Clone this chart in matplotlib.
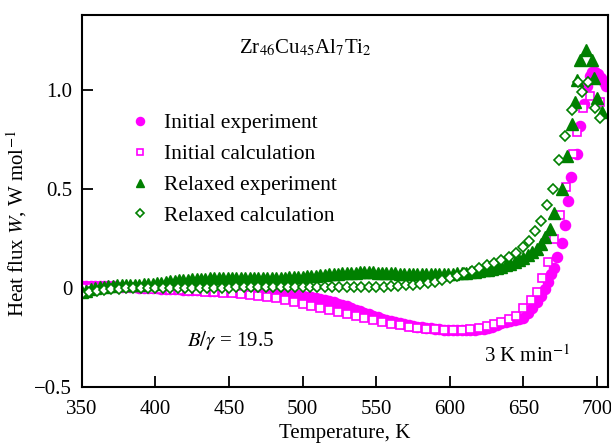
import matplotlib
matplotlib.use("Agg")
import matplotlib.pyplot as plt

plt.rcParams["font.family"] = ["Liberation Serif", "DejaVu Serif"]
plt.rcParams["mathtext.fontset"] = "stix"

# initial state, experiment (filled circles)
t_init_exp = [350, 353, 356, 359, 362, 365, 368, 371, 374, 377, 380,
              383, 386, 389, 392, 395, 398, 401, 404, 407, 410, 413, 416, 419, 422,
              425, 428, 431, 434, 437, 440,
              443, 446, 449, 452, 455, 458, 461, 464, 467, 470, 473, 476, 479, 482,
              485, 488, 491, 494, 497,
              500, 503, 506, 509, 512, 515, 518, 521, 524, 527, 530, 533, 536, 539,
              542, 545, 548,
              551, 554, 557, 560, 563, 566, 569, 572, 575, 578, 581, 584, 587, 590,
              593, 596, 599,
              602, 605, 608, 611, 614, 617, 620, 623, 626, 629, 632,
              635, 638, 641, 644, 647, 650, 653, 656, 659, 662, 665,
              667, 669, 671, 673, 676, 678, 680.5, 682.5, 686.5, 688.5, 691, 693,
              695, 697, 699, 701, 703, 705, 706.5]
w_init_exp = [0.012, 0.013, 0.012, 0.012, 0.011, 0.010, 0.010, 0.009, 0.008, 0.007, 0.006,
              0.005, 0.004, 0.003, 0.002, 0.001, 0.0, -0.001, -0.002, -0.003, -0.004,
              -0.005, -0.006, -0.007, -0.008, -0.009, -0.010, -0.010, -0.011, -0.012, -0.012,
              -0.013, -0.014, -0.015, -0.016, -0.017, -0.018, -0.019, -0.020, -0.021,
              -0.022, -0.023, -0.024, -0.025, -0.026, -0.028, -0.030, -0.032, -0.034, -0.036,
              -0.038, -0.042, -0.046, -0.050, -0.055, -0.060, -0.066, -0.072, -0.078,
              -0.085, -0.092, -0.100, -0.108, -0.116, -0.124, -0.132, -0.140,
              -0.147, -0.154, -0.160, -0.166, -0.172, -0.177, -0.182, -0.186, -0.190,
              -0.194, -0.197, -0.200, -0.203, -0.205, -0.207, -0.209, -0.210,
              -0.211, -0.212, -0.212, -0.212, -0.211, -0.210, -0.208, -0.205, -0.200,
              -0.194, -0.186,
              -0.178, -0.172, -0.166, -0.160, -0.155, -0.150, -0.125, -0.100, -0.070,
              -0.040, -0.005,
              0.03, 0.07, 0.10, 0.16, 0.23, 0.32, 0.44, 0.56, 0.68, 0.82, 0.93, 1.02,
              1.07, 1.09, 1.09, 1.08, 1.06, 1.04, 1.02]

# initial state, calculation (open squares)
t_init_calc = [350, 356, 362, 368, 374, 380, 386, 392, 398, 404, 410, 416, 422, 428,
               434, 440, 446, 452, 458, 464, 470, 476, 482, 488, 494, 500, 506, 512,
               518, 524, 530, 536, 542, 548, 554, 560, 566, 572, 578, 584, 590, 596,
               602, 608, 614, 620,
               625, 630, 635, 640, 645, 650, 655,
               659, 663, 667, 671, 675, 679, 684,
               686.6, 690.6, 695, 702]
w_init_calc = [0.0, 0.0, 0.0, 0.0, 0.0, 0.0, 0.0, -0.002, -0.003, -0.005, -0.007,
               -0.009, -0.012, -0.015, -0.018, -0.020, -0.022, -0.025, -0.028, -0.033,
               -0.038, -0.045, -0.052, -0.060, -0.070, -0.080, -0.090, -0.100, -0.110,
               -0.120, -0.130, -0.140, -0.150, -0.160, -0.170, -0.180, -0.188, -0.195,
               -0.200, -0.204, -0.207, -0.209, -0.210, -0.210, -0.207, -0.200,
               -0.190, -0.180, -0.170, -0.155, -0.140, -0.100, -0.060,
               -0.020, 0.050, 0.130, 0.250, 0.370, 0.510, 0.680,
               0.790, 0.910, 0.970, 0.940]

# relaxed state, experiment (filled triangles)
t_rel_exp = [350, 353, 356, 359, 362, 365, 368, 371, 374, 377, 380, 383, 386, 389,
             392, 395, 398, 401, 404, 407, 410, 413, 416, 419, 422, 425, 428, 431,
             434, 437, 440, 443, 446, 449, 452, 455, 458, 461, 464, 467, 470, 473,
             476, 479, 482, 485, 488, 491, 494, 497, 500, 503, 506, 509, 512, 515,
             518, 521, 524, 527, 530, 533, 536, 539, 542, 545, 548, 551, 554, 557,
             560, 563, 566, 569, 572, 575, 578, 581, 584, 587, 590, 593, 596, 599,
             602, 605, 608, 611, 614, 617, 620, 623, 626, 629, 632, 635, 638, 641,
             644, 647, 650, 653, 656, 659, 662,
             665, 668, 671, 676, 680, 683, 685, 686.5, 688.5, 692.6, 697, 698,
             700, 703.5]
w_rel_exp = [-0.020, -0.012, -0.005, 0.000, 0.004, 0.007, 0.010, 0.012, 0.014, 0.015,
             0.016, 0.016, 0.017, 0.018, 0.019, 0.021, 0.023, 0.025, 0.028, 0.031,
             0.035, 0.037, 0.040, 0.042, 0.043, 0.045, 0.047, 0.048, 0.049, 0.050,
             0.050, 0.050, 0.050, 0.050, 0.050, 0.050, 0.050, 0.050, 0.050, 0.050,
             0.050, 0.051, 0.051, 0.052, 0.052, 0.053, 0.054, 0.055, 0.056, 0.057,
             0.058, 0.060, 0.062, 0.064, 0.066, 0.068, 0.070, 0.072, 0.074, 0.076,
             0.077, 0.078, 0.079, 0.080, 0.080, 0.080, 0.080, 0.079, 0.078, 0.077,
             0.076, 0.075, 0.074, 0.073, 0.072, 0.072, 0.071, 0.071, 0.071, 0.071,
             0.071, 0.072, 0.072, 0.073, 0.074, 0.075, 0.077, 0.079, 0.081, 0.084,
             0.087, 0.090, 0.094, 0.098, 0.103, 0.109, 0.116, 0.124, 0.133, 0.143,
             0.155, 0.168, 0.183, 0.200, 0.222,
             0.26, 0.30, 0.38, 0.50, 0.67, 0.83, 0.94, 1.05, 1.155, 1.205, 1.155,
             1.06, 0.96, 0.89]

# relaxed state, calculation (open diamonds)
t_rel_calc = [350, 355, 360, 365, 370, 375, 380, 385, 390, 395, 400, 405, 410, 415,
              420, 425, 430, 435, 440, 445, 450, 455, 460, 465, 470, 475, 480, 485,
              490, 495, 500, 505, 510, 515, 520, 525, 530, 535, 540, 545, 550, 555,
              560, 565, 570, 575, 580, 585, 590, 595, 600, 605, 610, 615, 620, 625,
              630, 635, 640, 645, 650,
              654, 658, 662, 666, 670, 674, 678, 683, 687, 690, 694, 699, 702]
w_rel_calc = [-0.030, -0.020, -0.012, -0.007, -0.004, -0.002, -0.001, 0.000, 0.000,
              0.000, 0.000, 0.000, 0.001, 0.001, 0.001, 0.002, 0.002, 0.002, 0.003,
              0.003, 0.003, 0.004, 0.004, 0.004, 0.005, 0.005, 0.005, 0.005, 0.005,
              0.005, 0.005, 0.005, 0.005, 0.005, 0.005, 0.005, 0.005, 0.005, 0.005,
              0.005, 0.006, 0.007, 0.009, 0.011, 0.014, 0.017, 0.021, 0.026, 0.032,
              0.040, 0.050, 0.062, 0.075, 0.088, 0.102, 0.115, 0.128, 0.142, 0.158,
              0.180, 0.210,
              0.240, 0.290, 0.340, 0.420, 0.500, 0.650, 0.770, 0.900, 1.040, 0.990,
              1.040, 0.910, 0.860]

magenta = "#ff00ff"
green = "#008000"

fig = plt.figure(figsize=(6.11, 4.43), dpi=100)
ax = fig.add_axes([0.134, 0.126, 0.861, 0.841])

ax.plot(t_init_exp, w_init_exp, "o", color=magenta, ms=7.3, mec=magenta,
        label="Initial experiment")
ax.plot(t_init_calc, w_init_calc, "s", color=magenta, ms=6, mfc="white",
        mew=1.2, label="Initial calculation")
ax.plot(t_rel_exp, w_rel_exp, "^", color=green, ms=8, mec=green,
        label="Relaxed experiment")
ax.plot(t_rel_calc, w_rel_calc, "D", color=green, ms=5, mfc="white",
        mew=1.2, label="Relaxed calculation")

ax.set_xlim(350, 707.5)
ax.set_ylim(-0.5, 1.382)
ax.set_xticks([350, 400, 450, 500, 550, 600, 650, 700])
ax.set_yticks([-0.5, 0, 0.5, 1.0])
ax.set_yticklabels(["\u22120.5", "0", "0.5", "1.0"])
ax.tick_params(direction="in", length=8, width=1.3, labelsize=15, pad=7)
ax.tick_params(axis="x", pad=9)
for sp in ax.spines.values():
    sp.set_linewidth(1.5)

ax.set_xlabel("Temperature, K", fontsize=15, labelpad=4)
ax.set_ylabel(r"Heat flux $W$, W mol$^{-1}$", fontsize=15)
ax.yaxis.set_label_coords(-0.10, 0.44)

ax.text(502, 1.215, r"Zr$_{46}$Cu$_{45}$Al$_7$Ti$_2$", fontsize=15,
        ha="center", va="center")
ax.text(451, -0.263, r"$B/\gamma$ = 19.5", fontsize=15, ha="center", va="center")
ax.text(653, -0.345, r"3 K min$^{-1}$", fontsize=15, ha="center", va="center")

ax.legend(loc="upper left", bbox_to_anchor=(0.09, 0.735), frameon=False,
          fontsize=15.5, markerscale=0.8, handlelength=1.0, handletextpad=0.6,
          labelspacing=0.5, borderpad=0, borderaxespad=0)

fig.savefig("out.png", dpi=100)
